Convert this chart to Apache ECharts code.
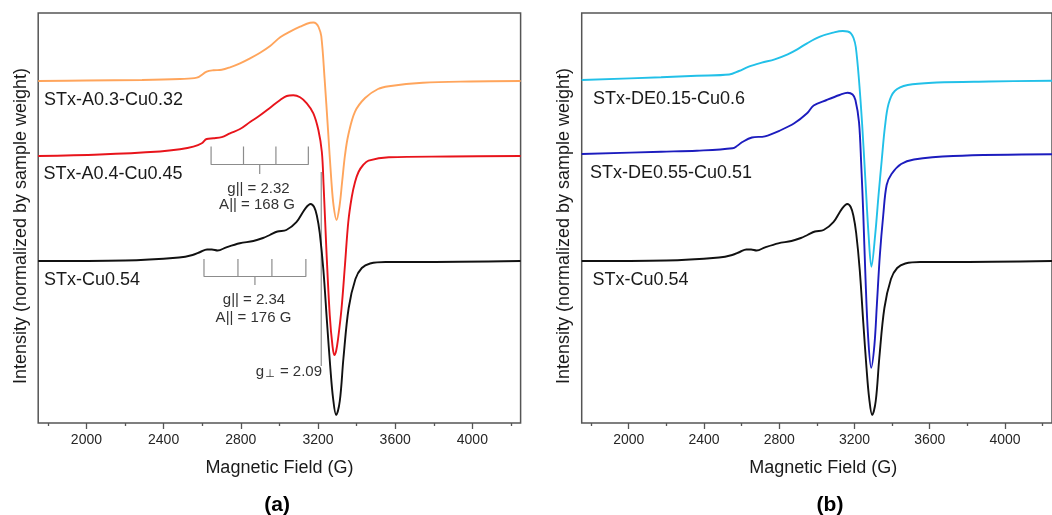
<!DOCTYPE html>
<html>
<head>
<meta charset="utf-8">
<script src="https://cdn.jsdelivr.net/npm/echarts@6/dist/echarts.min.js"></script>
<style>
  html, body { margin: 0; padding: 0; background: #ffffff; }
  #chart { width: 1052px; height: 515px; }
</style>
</head>
<body>
<div id="chart"></div>
<script>
// X-band EPR spectra of Cu-loaded samples; field in gauss, intensity in offset arbitrary units
const fieldMajorTicks = [2000, 2400, 2800, 3200, 3600, 4000];
const fieldMinorTicks = [1800, 2200, 2600, 3000, 3400, 3800, 4200];

const stxA03Cu032 = [
  [1750, 342], [2000, 342.5], [2288, 343], [2485, 344], [2572, 345.3], [2623, 351.3],
  [2658, 352.7], [2701, 353.2], [2744, 355.7], [2796, 359.7], [2848, 364.7], [2900, 370.3],
  [2952, 377], [3004, 385.7], [3055, 391.3], [3107, 396.3], [3159, 400.3], [3176, 400.5],
  [3190, 399.5], [3203, 396], [3217, 387], [3234, 345], [3252, 293], [3269, 243],
  [3281, 217], [3296, 203], [3311, 216], [3325, 241], [3340, 268], [3357, 288],
  [3392, 311.4], [3444, 325], [3511, 334], [3567, 336.8], [3743, 340.2], [3988, 341.5],
  [4250, 342]
];

const stxA04Cu045 = [
  [1750, 267], [2070, 268.5], [2381, 271.5], [2485, 273.7], [2554, 276.3], [2598, 279.7],
  [2623, 284], [2658, 284.7], [2701, 285.9], [2744, 289.7], [2796, 294], [2848, 301],
  [2900, 307.7], [2952, 315.3], [3004, 323], [3038, 327], [3072, 327.7], [3107, 325.7],
  [3142, 319.7], [3176, 309.7], [3202, 293], [3220, 271], [3229, 238], [3243, 175.4],
  [3261, 107.8], [3275, 77.4], [3285, 68], [3294, 72], [3304, 84], [3322, 114.5],
  [3340, 158.5], [3357, 201], [3375, 226], [3392, 241], [3410, 251], [3434, 258],
  [3462, 262.4], [3567, 265.8], [3885, 266.5], [4250, 267]
];

const stxCu054 = [
  [1750, 162], [2200, 162.5], [2480, 165.5], [2550, 168], [2590, 171], [2625, 173.5],
  [2650, 173.5], [2680, 172.5], [2725, 175.7], [2795, 179.7], [2865, 182], [2915, 185],
  [2950, 188], [2990, 191.5], [3036, 193], [3088, 200.8], [3135, 214.7], [3162, 219],
  [3180, 216], [3194, 207.5], [3209, 190], [3228, 153], [3247, 100], [3264, 55],
  [3278, 25], [3294, 8], [3313, 22], [3332, 65], [3359, 115], [3394, 144],
  [3427, 155], [3470, 159.5], [3550, 161], [3700, 161], [4250, 162]
];

const stxDE015Cu06 = [
  [1750, 343], [2172, 345.7], [2362, 347.3], [2534, 348.5], [2586, 352], [2638, 356.3],
  [2707, 360.3], [2776, 363.7], [2845, 368.7], [2896, 373.7], [2948, 379.7], [3017, 386.3],
  [3086, 390.3], [3138, 392], [3164, 391.5], [3181, 389.7], [3195, 385], [3207, 376],
  [3224, 343], [3241, 298], [3258, 243], [3275, 188], [3290, 156.3], [3310, 188],
  [3328, 228], [3345, 263], [3362, 296.3], [3381, 319], [3414, 332], [3483, 338],
  [3638, 340.5], [3915, 341.5], [4250, 342.3]
];

const stxDE055Cu051 = [
  [1750, 269], [2172, 271.3], [2362, 272.3], [2552, 274.7], [2579, 277.5], [2604, 281],
  [2655, 285.5], [2724, 286.7], [2810, 293], [2880, 299.7], [2948, 309.7], [2983, 317.5],
  [3052, 323], [3121, 328], [3164, 330.3], [3190, 328.5], [3205, 323], [3224, 301],
  [3236, 258], [3247, 208], [3258, 148], [3272, 88], [3289, 55.3], [3306, 78],
  [3319, 118], [3335, 168], [3353, 208], [3371, 238], [3397, 249], [3448, 259],
  [3516, 263.5], [3724, 267], [4250, 268.7]
];

// Spin-Hamiltonian parameters marked on panel (a)
const mwFrequencyGHz = 9.41;
const gParA04 = 2.32, aParA04 = 168;
const gParCu = 2.34, aParCu = 176;
const gPerp = 2.09;

const BOHR_FACTOR = 714.48; // h / muB in G per GHz
const resonanceField = g => BOHR_FACTOR * mwFrequencyGHz / g;

// Four-line hyperfine stick bracket centred on g|| with spacing A||
function hyperfineBracket(g, a, base, top, drop) {
  const c = resonanceField(g);
  const f = [c - 1.5 * a, c - 0.5 * a, c + 0.5 * a, c + 1.5 * a];
  return [
    [f[0], top], [f[0], base], [f[1], base], [f[1], top], [f[1], base],
    [c, base], [c, drop], [c, base],
    [f[2], base], [f[2], top], [f[2], base], [f[3], base], [f[3], top]
  ];
}

const FONT = '"Liberation Sans", Arial, Helvetica, sans-serif';
const FRAME = '#555555';
const MARK = '#8c8c8c';

function xAxesFor(gridIndex) {
  return [
    {
      gridIndex, type: 'value', position: 'bottom', min: 1750, max: 4250,
      axisLine: { show: false }, splitLine: { show: false },
      axisTick: { show: true, customValues: fieldMajorTicks, length: 6, lineStyle: { color: FRAME, width: 1.3 } },
      axisLabel: {
        customValues: fieldMajorTicks, fontSize: 14, fontFamily: FONT, color: '#262626', margin: 10,
        formatter: v => String(v)
      }
    },
    {
      gridIndex, type: 'value', position: 'bottom', min: 1750, max: 4250,
      axisLine: { show: false }, splitLine: { show: false },
      axisTick: { show: true, customValues: fieldMinorTicks, length: 3, lineStyle: { color: FRAME, width: 1.3 } },
      axisLabel: { show: false }
    }
  ];
}

function spectrum(data, color, xAxisIndex, yAxisIndex) {
  return {
    type: 'line', data, xAxisIndex, yAxisIndex,
    showSymbol: false, smooth: 0.35,
    lineStyle: { color, width: 1.9 }, silent: true, z: 3
  };
}

function markLine(data) {
  return {
    type: 'line', data, xAxisIndex: 0, yAxisIndex: 0,
    showSymbol: false, smooth: false,
    lineStyle: { color: MARK, width: 1.2 }, silent: true, z: 2
  };
}

const gPerpField = resonanceField(gPerp);

function txt(text, x, y, opts) {
  const o = Object.assign({ size: 18, align: 'left', weight: 'normal', color: '#1a1a1a', rotation: 0 }, opts || {});
  const style = {
    text, fill: o.color,
    font: o.weight + ' ' + o.size + 'px ' + FONT,
    align: o.align, verticalAlign: 'middle',
    textAlign: o.align, textVerticalAlign: 'middle'
  };
  if (o.rich) style.rich = o.rich;
  return { type: 'text', x, y, rotation: o.rotation, silent: true, style };
}

const perpRich = {
  n: { fontSize: 15, fontFamily: FONT, fill: '#333', color: '#333' },
  s: { fontSize: 11, fontFamily: 'DejaVu Sans, sans-serif', fill: '#333', color: '#333', verticalAlign: 'bottom', padding: [5, 1, 0, 1] }
};

const option = {
  animation: false,
  backgroundColor: '#ffffff',
  grid: [
    { left: 38.2, top: 13, width: 482.4, height: 410, show: true, borderColor: FRAME, borderWidth: 1.5, backgroundColor: 'transparent' },
    { left: 581.7, top: 13, width: 483.3, height: 410, show: true, borderColor: FRAME, borderWidth: 1.5, backgroundColor: 'transparent' }
  ],
  xAxis: [...xAxesFor(0), ...xAxesFor(1)],
  yAxis: [
    { gridIndex: 0, type: 'value', min: 0, max: 410, show: false },
    { gridIndex: 1, type: 'value', min: 0, max: 410, show: false }
  ],
  series: [
    spectrum(stxA03Cu032, '#FFA55C', 0, 0),
    spectrum(stxA04Cu045, '#E8141B', 0, 0),
    spectrum(stxCu054, '#111111', 0, 0),
    markLine(hyperfineBracket(gParA04, aParA04, 258.5, 276.5, 249)),
    markLine(hyperfineBracket(gParCu, aParCu, 146.5, 164, 138)),
    markLine([[gPerpField, 251], [gPerpField, 57]]),
    spectrum(stxDE015Cu06, '#22C0E8', 2, 1),
    spectrum(stxDE055Cu051, '#1C1CBE', 2, 1),
    spectrum(stxCu054, '#111111', 2, 1)
  ],
  graphic: [
    txt('STx-A0.3-Cu0.32', 44, 99.7),
    txt('STx-A0.4-Cu0.45', 43.5, 174),
    txt('STx-Cu0.54', 44, 279.7),
    txt('STx-DE0.15-Cu0.6', 593, 99.3),
    txt('STx-DE0.55-Cu0.51', 590, 173.3),
    txt('STx-Cu0.54', 592.5, 280),
    txt('g|| = ' + gParA04.toFixed(2), 258.5, 188.5, { size: 15, align: 'center', color: '#333' }),
    txt('A|| = ' + aParA04 + ' G', 257, 205, { size: 15, align: 'center', color: '#333' }),
    txt('g|| = ' + gParCu.toFixed(2), 254, 300, { size: 15, align: 'center', color: '#333' }),
    txt('A|| = ' + aParCu + ' G', 253.5, 317.5, { size: 15, align: 'center', color: '#333' }),
    txt('{n|g}{s|\u22A5}{n| = ' + gPerp.toFixed(2) + '}', 322, 372, { size: 15, align: 'right', color: '#333', rich: perpRich }),
    txt('Magnetic Field (G)', 279.4, 468.5, { size: 18, align: 'center' }),
    txt('Magnetic Field (G)', 823.3, 468.5, { size: 18, align: 'center' }),
    txt('(a)', 277.2, 505, { size: 21, align: 'center', weight: 'bold', color: '#000' }),
    txt('(b)', 830, 505, { size: 21, align: 'center', weight: 'bold', color: '#000' }),
    txt('Intensity (normalized by sample weight)', 20.8, 226, { size: 18, align: 'center', rotation: Math.PI / 2 }),
    txt('Intensity (normalized by sample weight)', 564, 226, { size: 18, align: 'center', rotation: Math.PI / 2 })
  ]
};

const chart = echarts.init(document.getElementById('chart'), null, { renderer: 'canvas' });
chart.setOption(option);
</script>
</body>
</html>
